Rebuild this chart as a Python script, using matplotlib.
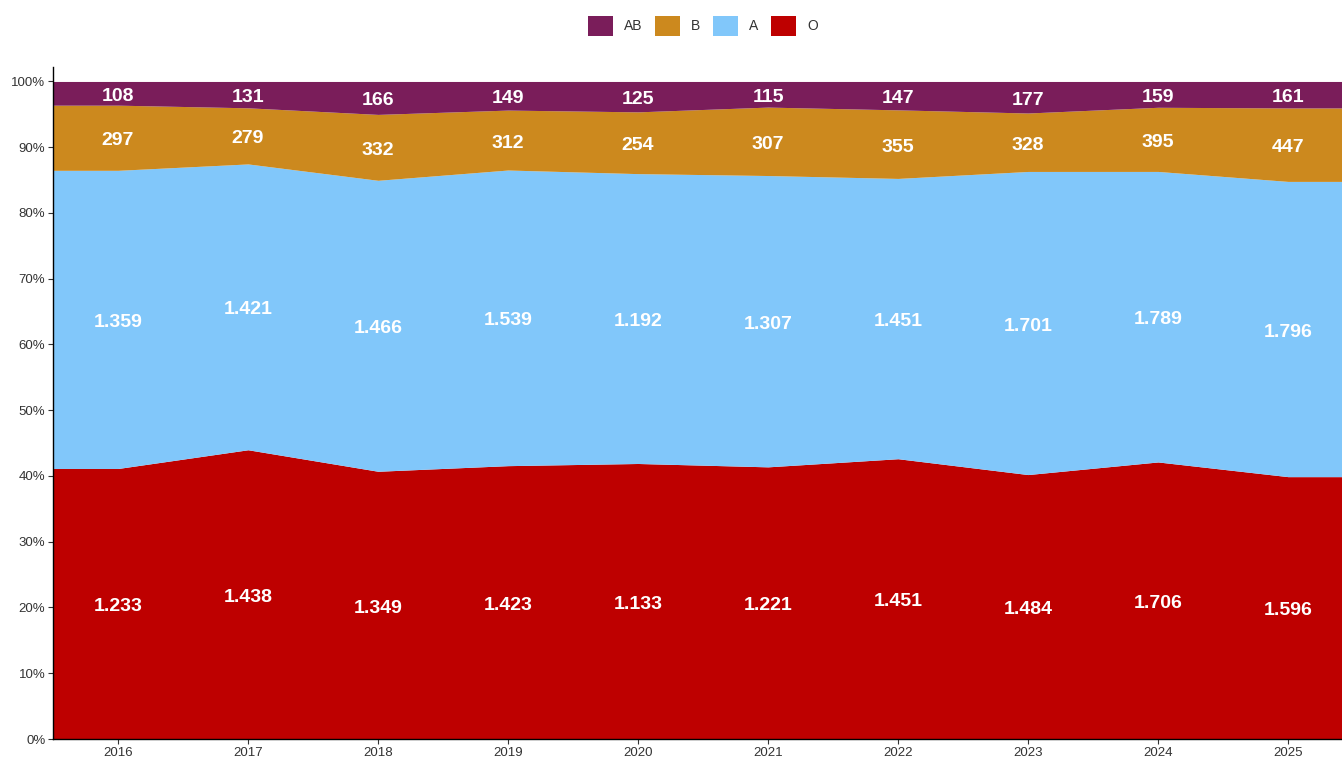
import numpy as np
import matplotlib
matplotlib.use("Agg")
import matplotlib.pyplot as plt
from matplotlib.patches import Patch
from matplotlib.ticker import FuncFormatter

plt.rcParams["font.family"] = ["Liberation Sans", "DejaVu Sans"]

years = [2016, 2017, 2018, 2019, 2020, 2021, 2022, 2023, 2024, 2025]
grupos = ["O", "A", "B", "AB"]
o_vals = [1233, 1438, 1349, 1423, 1133, 1221, 1451, 1484, 1706, 1596]
a_vals = [1359, 1421, 1466, 1539, 1192, 1307, 1451, 1701, 1789, 1796]
b_vals = [297, 279, 332, 312, 254, 307, 355, 328, 395, 447]
ab_vals = [108, 131, 166, 149, 125, 115, 147, 177, 159, 161]
colores = {"O": "#BE0000", "A": "#81C7FA", "B": "#CC891E", "AB": "#7A1D5A"}

counts = np.array([o_vals, a_vals, b_vals, ab_vals], dtype=float)
share = counts / counts.sum(axis=0)
cum = np.vstack([np.zeros(len(years)), np.cumsum(share, axis=0)])

# banda extendida medio año a cada lado (valores planos en los bordes)
x = np.array(years, dtype=float)
xe = np.concatenate([[x[0] - 0.5], x, [x[-1] + 0.5]])
cume = np.hstack([cum[:, :1], cum, cum[:, -1:]])

fig = plt.figure(figsize=(13.42, 7.6), dpi=100)
ax = fig.add_axes([53 / 1342, 21 / 760, 1300 / 1342, 672 / 760])

for i, g in enumerate(grupos):
    ax.fill_between(xe, cume[i], cume[i + 1], color=colores[g], lw=0)
    mid = (cum[i] + cum[i + 1]) / 2
    for xi, yi, v in zip(x, mid, counts[i]):
        ax.annotate(f"{int(v):,}".replace(",", "."), (xi, yi), xytext=(0, -2.2),
                    textcoords="offset points", ha="center", va="center",
                    color="white", fontsize=14, fontweight="bold")

ax.set_xlim(2015.5, 2025.5)
ax.set_ylim(0, 1.022)
ax.set_xticks(years)
ax.set_yticks(np.arange(0, 1.01, 0.1))
ax.yaxis.set_major_formatter(FuncFormatter(lambda v, p: f"{v * 100:.0f}%"))
ax.tick_params(labelsize=9.5, colors="#333333", length=3.5, width=0.8, pad=2)
for s in ["top", "right"]:
    ax.spines[s].set_visible(False)
for s in ["left", "bottom"]:
    ax.spines[s].set_linewidth(1.0)
    ax.spines[s].set_color("black")

handles = [Patch(facecolor=colores[g], edgecolor="none", label=g) for g in ["AB", "B", "A", "O"]]
fig.legend(handles=handles, loc="center", bbox_to_anchor=(703 / 1342, 1 - 26 / 760), ncol=4,
           frameon=False, fontsize=10, handlelength=1.8, handleheight=1.8,
           handletextpad=0.8, columnspacing=0.9, labelcolor="#333333")

fig.savefig("out.png", dpi=100)
